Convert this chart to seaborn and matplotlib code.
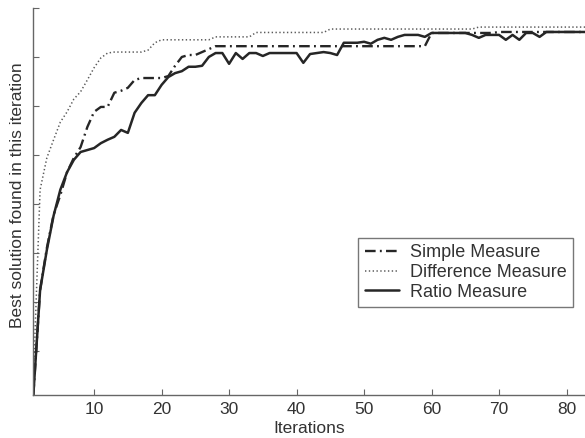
import numpy as np
import pandas as pd
import matplotlib
matplotlib.use("Agg")
import matplotlib.pyplot as plt
import seaborn as sns

# ==========================================
# Data
# ==========================================
iterations = list(range(1, 84))

simple_measure = [
    0.10, 2.24, 3.10, 3.78, 4.18, 4.65, 4.94, 5.16, 5.57, 5.88,
    5.98, 5.98, 6.27, 6.31, 6.37, 6.53, 6.57, 6.57, 6.57, 6.57,
    6.61, 6.82, 7.00, 7.04, 7.04, 7.10, 7.16, 7.22, 7.22, 7.22,
    7.22, 7.22, 7.22, 7.22, 7.22, 7.22, 7.22, 7.22, 7.22, 7.22,
    7.22, 7.22, 7.22, 7.22, 7.22, 7.22, 7.22, 7.22, 7.22, 7.22,
    7.22, 7.22, 7.22, 7.22, 7.22, 7.22, 7.22, 7.22, 7.22, 7.49,
    7.49, 7.49, 7.49, 7.49, 7.49, 7.49, 7.49, 7.49, 7.49, 7.51,
    7.51, 7.51, 7.51, 7.51, 7.51, 7.51, 7.51, 7.51, 7.51, 7.51,
    7.51, 7.51, 7.51,
]

difference_measure = [
    0.41, 4.29, 4.94, 5.31, 5.67, 5.88, 6.14, 6.29, 6.53, 6.78,
    6.98, 7.08, 7.10, 7.10, 7.10, 7.10, 7.10, 7.14, 7.29, 7.35,
    7.35, 7.35, 7.35, 7.35, 7.35, 7.35, 7.35, 7.41, 7.41, 7.41,
    7.41, 7.41, 7.41, 7.50, 7.50, 7.50, 7.50, 7.50, 7.50, 7.50,
    7.50, 7.50, 7.50, 7.50, 7.57, 7.57, 7.57, 7.57, 7.57, 7.57,
    7.57, 7.57, 7.57, 7.57, 7.57, 7.57, 7.57, 7.57, 7.57, 7.57,
    7.57, 7.57, 7.57, 7.57, 7.57, 7.57, 7.61, 7.61, 7.61, 7.61,
    7.61, 7.61, 7.61, 7.61, 7.61, 7.61, 7.61, 7.61, 7.61, 7.61,
    7.61, 7.61, 7.61,
]

ratio_measure = [
    0.10, 2.24, 3.06, 3.76, 4.29, 4.65, 4.90, 5.06, 5.10, 5.14,
    5.24, 5.31, 5.37, 5.51, 5.45, 5.86, 6.06, 6.22, 6.22, 6.43,
    6.59, 6.67, 6.71, 6.80, 6.80, 6.82, 7.00, 7.08, 7.08, 6.86,
    7.08, 6.96, 7.08, 7.08, 7.02, 7.08, 7.08, 7.08, 7.08, 7.08,
    6.88, 7.06, 7.08, 7.10, 7.08, 7.04, 7.29, 7.29, 7.29, 7.31,
    7.27, 7.35, 7.39, 7.35, 7.41, 7.45, 7.45, 7.45, 7.41, 7.49,
    7.49, 7.49, 7.49, 7.49, 7.49, 7.45, 7.39, 7.45, 7.45, 7.45,
    7.35, 7.45, 7.35, 7.49, 7.49, 7.41, 7.51, 7.51, 7.51, 7.51,
    7.51, 7.51, 7.51,
]

series_names = ["Simple Measure", "Difference Measure", "Ratio Measure"]
x_ticks = [10, 20, 30, 40, 50, 60, 70, 80]

# ==========================================
# Style
# ==========================================
sns.set_style("white")
plt.rcParams['font.family'] = ['Liberation Sans', 'DejaVu Sans']

df = pd.DataFrame({
    "Iterations": iterations * 3,
    "value": simple_measure + difference_measure + ratio_measure,
    "series": sum([[n] * len(iterations) for n in series_names], []),
})

line_styles = {
    "Simple Measure": dict(color="#262626", lw=1.7, ls=(0, (4.5, 1.8, 0.8, 1.8))),
    "Difference Measure": dict(color="#5a5a5a", lw=1.1, ls=(0, (0.9, 1.6))),
    "Ratio Measure": dict(color="#262626", lw=1.8, ls="-"),
}

fig = plt.figure(figsize=(5.85, 4.38), dpi=100)
ax = fig.add_axes([0.057, 0.0982, 0.943, 0.8836])

for name in series_names:
    st = line_styles[name]
    sub = df[df["series"] == name]
    sns.lineplot(data=sub, x="Iterations", y="value", ax=ax, label=name,
                 color=st["color"], linewidth=st["lw"], linestyle=st["ls"])

ax.set_xlim(1, 82.73)
ax.set_ylim(0.1, 8)
ax.set_xticks(x_ticks)
ax.set_yticks([1, 2, 3, 4, 5, 6, 7, 8])
ax.set_yticklabels([])

ax.set_xlabel("Iterations", fontsize=12.5, color="#333333", labelpad=3)
ax.set_ylabel("Best solution found in this iteration", fontsize=12.5, color="#333333")
ax.yaxis.set_label_coords(-0.016, 0.515)

for side in ["top", "right"]:
    ax.spines[side].set_visible(False)
for side in ["left", "bottom"]:
    ax.spines[side].set_color("#666666")
    ax.spines[side].set_linewidth(1.0)

ax.tick_params(axis="both", which="major", bottom=True, left=True,
               direction="in", length=4, width=0.8, color="#666666",
               labelsize=12.5, labelcolor="#333333")
ax.tick_params(axis="x", pad=5)

leg = ax.legend(loc="lower right", bbox_to_anchor=(0.978, 0.227), fontsize=13,
                frameon=True, fancybox=False, shadow=False, framealpha=1,
                edgecolor="#777777", borderpad=0.35, labelspacing=0.15,
                handlelength=1.9, handletextpad=0.6, borderaxespad=0)
leg.get_frame().set_linewidth(1.0)
for t in leg.get_texts():
    t.set_color("#333333")

fig.savefig("out.png", dpi=100)
